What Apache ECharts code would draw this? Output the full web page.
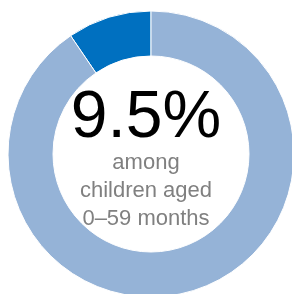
<!DOCTYPE html>
<html><head><meta charset="utf-8">
<script src="https://cdn.jsdelivr.net/npm/echarts@6/dist/echarts.min.js"></script>
<style>html,body{margin:0;padding:0;background:#fff}#c{width:292px;height:294px}</style>
</head><body><div id="c"></div>
<script>
const categories = ['Affected', 'Not affected'];
const values = [9.5, 90.5];
const colors = ['#0070C0', '#95B3D7'];
const bigLabel = '9.5%';
const subLines = ['among', 'children aged', '0–59 months'];

const chart = echarts.init(document.getElementById('c'), null, {renderer: 'canvas'});
chart.setOption({
  animation: false,
  series: [{
    type: 'pie',
    center: [151, 154],
    radius: [98, 143],
    startAngle: 90,
    clockwise: false,
    label: {show: false},
    labelLine: {show: false},
    silent: true,
    itemStyle: {borderColor: '#fff', borderWidth: 1},
    data: categories.map((n, i) => ({name: n, value: values[i], itemStyle: {color: colors[i]}}))
  }],
  graphic: [
    {type: 'text', left: 'center', top: 86, style: {text: bigLabel, font: '66px "Liberation Sans"', fill: '#000'}},
    ...subLines.map((t, i) => ({type: 'text', left: 'center', top: 152 + i * 28, style: {text: t, font: '22px "Liberation Sans"', fill: '#808080'}}))
  ]
});
</script></body></html>
